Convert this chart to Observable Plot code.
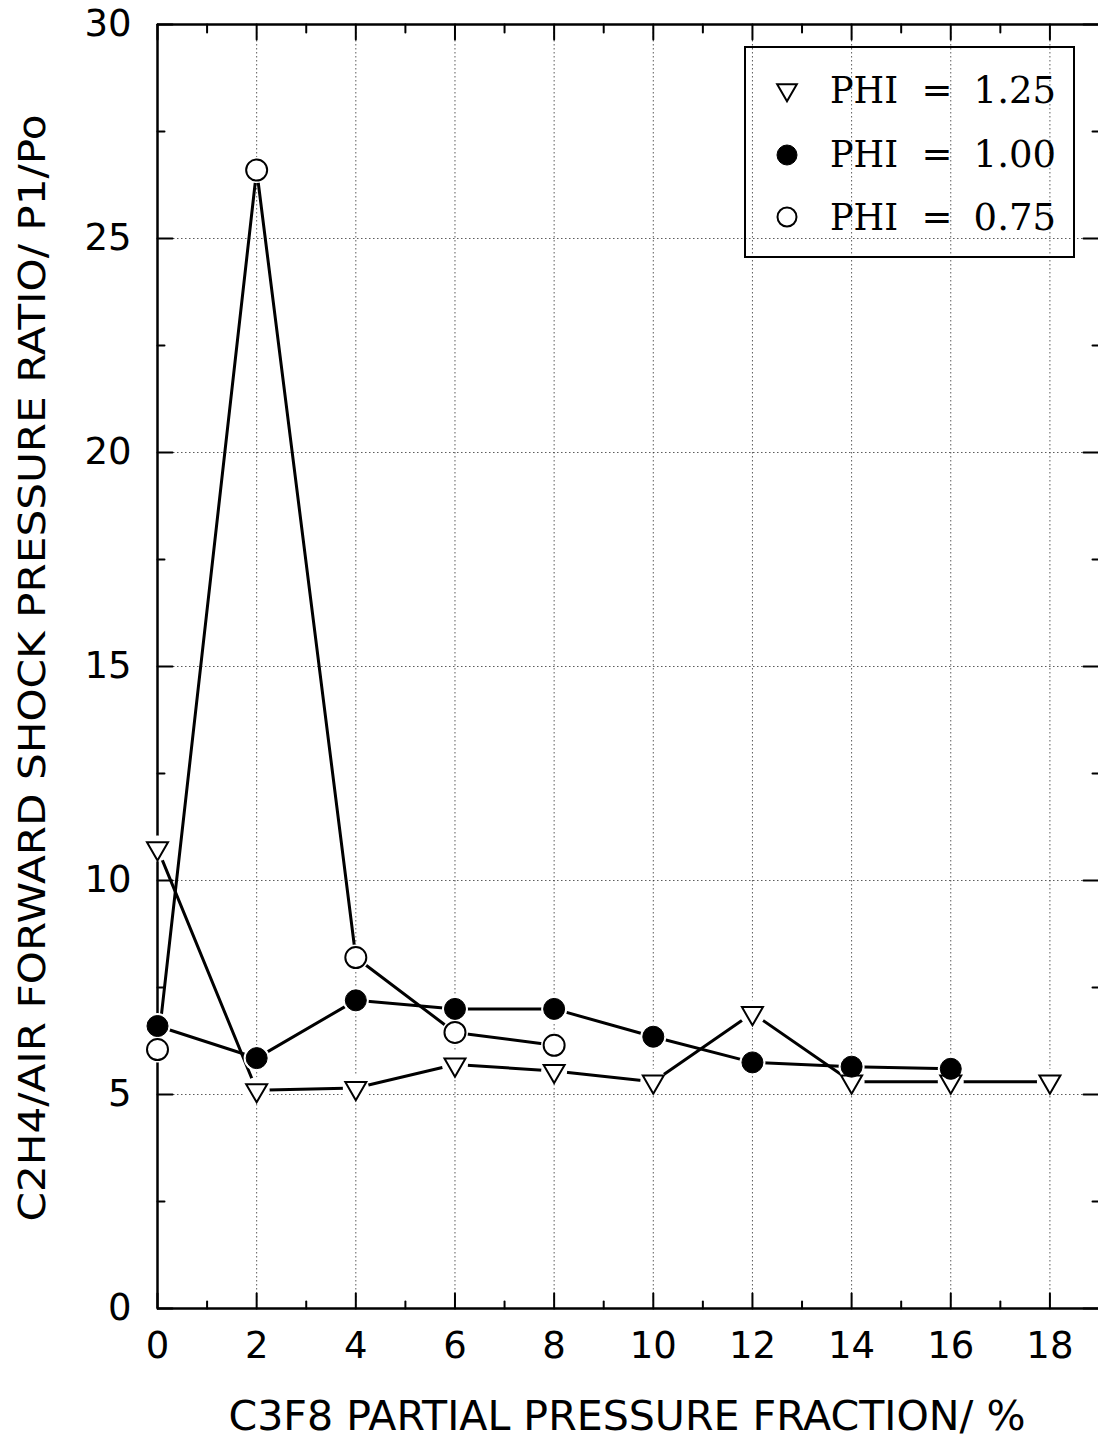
<!DOCTYPE html>
<html><head><meta charset="utf-8">
<script src="https://cdn.jsdelivr.net/npm/d3@7"></script>
<script src="https://cdn.jsdelivr.net/npm/@observablehq/plot@0.6"></script>
<style>html,body{margin:0;padding:0;background:#fff;overflow:hidden}#chart{position:relative}</style>
</head><body><div id="chart"></div>
<script>
// ---- data ----
const xValues = [0, 2, 4, 6, 8, 10, 12, 14, 16, 18];
const phi125 = [10.75, 5.1, 5.15, 5.7, 5.55, 5.3, 6.9, 5.3, 5.3, 5.3];
const phi100 = [6.6, 5.85, 7.2, 7.0, 7.0, 6.35, 5.75, 5.65, 5.6];
const phi075 = [6.05, 26.6, 8.2, 6.45, 6.15];
const legendNames = ["PHI", "PHI", "PHI"];
const legendValues = ["1.25", "1.00", "0.75"];
const xTicks = [0, 2, 4, 6, 8, 10, 12, 14, 16, 18];
const xMinor = [1, 3, 5, 7, 9, 11, 13, 15, 17, 19];
const yTicks = [0, 5, 10, 15, 20, 25, 30];
const yMinor = [2.5, 7.5, 12.5, 17.5, 22.5, 27.5];
const xLabel = "C3F8 PARTIAL PRESSURE FRACTION/ %";
const yLabel = "C2H4/AIR FORWARD SHOCK PRESSURE RATIO/ P1/Po";

const toRows = (vals, phi) => vals.map((v, i) => ({x: xValues[i], y: v, phi}));
const s125 = toRows(phi125, "1.25");
const s100 = toRows(phi100, "1.00");
const s075 = toRows(phi075, "0.75");
const all = [...s125, ...s100, ...s075];

const tickShape = {draw(ctx, l) { ctx.moveTo(0, 0); ctx.lineTo(0, -l); }};
const FONT = "DejaVu Sans, Liberation Sans, sans-serif";
const tickMarks = (data, opts) => Plot.vector(data, {...opts, anchor: "start", shape: tickShape, stroke: "black", strokeWidth: 2});

const chart = Plot.plot({
  width: 1098,
  height: 1439,
  marginLeft: 157,
  marginRight: -1,
  marginTop: 24,
  marginBottom: 131,
  style: {fontFamily: FONT, background: "white", color: "black"},
  x: {domain: [0, 19]},
  y: {domain: [0, 30]},
  marks: [
    Plot.gridX(xTicks, {stroke: "#333", strokeOpacity: 0.8, strokeDasharray: "1.5,2.5", strokeWidth: 1}),
    Plot.gridY(yTicks, {stroke: "#333", strokeOpacity: 0.8, strokeDasharray: "1.5,2.5", strokeWidth: 1}),
    Plot.axisX(xTicks, {tickSize: 0, tickPadding: 23, fontSize: 37, label: null, tickFormat: d => String(d)}),
    Plot.axisY(yTicks, {tickSize: 0, tickPadding: 26, fontSize: 37, label: null, tickFormat: d => String(d)}),
    // inward ticks on four sides
    tickMarks(xTicks, {x: d => d, length: 15, rotate: 0, frameAnchor: "bottom"}),
    tickMarks(xMinor, {x: d => d, length: 7, rotate: 0, frameAnchor: "bottom"}),
    tickMarks(xTicks, {x: d => d, length: 15, rotate: 180, frameAnchor: "top"}),
    tickMarks(xMinor, {x: d => d, length: 8, rotate: 180, frameAnchor: "top"}),
    tickMarks(yTicks, {y: d => d, length: 15, rotate: 90, frameAnchor: "left"}),
    tickMarks(yMinor, {y: d => d, length: 7, rotate: 90, frameAnchor: "left"}),
    tickMarks(yTicks, {y: d => d, length: 16, rotate: -90, frameAnchor: "right"}),
    tickMarks(yMinor, {y: d => d, length: 7, rotate: -90, frameAnchor: "right"}),
    // frame
    Plot.ruleX([0], {stroke: "black", strokeWidth: 2.5}),
    Plot.ruleX([19], {stroke: "black", strokeWidth: 2.5}),
    Plot.ruleY([0], {stroke: "black", strokeWidth: 2.5}),
    Plot.ruleY([30], {stroke: "black", strokeWidth: 2.5}),
    // lines
    Plot.line(s125, {x: "x", y: "y", stroke: "black", strokeWidth: 3}),
    Plot.line(s100, {x: "x", y: "y", stroke: "black", strokeWidth: 3}),
    Plot.line(s075, {x: "x", y: "y", stroke: "black", strokeWidth: 3}),
    // halos
    Plot.dot(all, {x: "x", y: "y", r: 13, fill: "white"}),
    // markers
    Plot.dot(s125, {x: "x", y: "y", symbol: "triangle", r: 7.8, rotate: 180, fill: "white", stroke: "black", strokeWidth: 2}),
    Plot.dot(s075, {x: "x", y: "y", r: 10.5, fill: "white", stroke: "black", strokeWidth: 2}),
    Plot.dot(s100, {x: "x", y: "y", r: 10.5, fill: "black", stroke: "black", strokeWidth: 1})
  ]
});
document.getElementById("chart").appendChild(chart);

// axis titles and legend
const svg = d3.select(chart);
svg.append("text")
  .attr("x", 627).attr("y", 1430)
  .attr("text-anchor", "middle")
  .attr("font-family", FONT).attr("font-size", 40)
  .attr("textLength", 797).attr("lengthAdjust", "spacingAndGlyphs")
  .text(xLabel);
svg.append("text")
  .attr("transform", "translate(45,668) rotate(-90)")
  .attr("text-anchor", "middle")
  .attr("font-family", FONT).attr("font-size", 38)
  .attr("textLength", 1107).attr("lengthAdjust", "spacingAndGlyphs")
  .text(yLabel);

const lg = svg.append("g");
lg.append("rect").attr("x", 745).attr("y", 47).attr("width", 329).attr("height", 210)
  .attr("fill", "none").attr("stroke", "black").attr("stroke-width", 2);
const rowY = [103, 167, 230];
const symY = [90, 155, 217];
const triPath = d3.symbol(d3.symbolTriangle, Math.PI * 7.3 * 7.3)();
legendNames.forEach((name, i) => {
  if (i === 0) {
    lg.append("path").attr("d", triPath)
      .attr("transform", `translate(787,${symY[i]}) rotate(180)`)
      .attr("fill", "white").attr("stroke", "black").attr("stroke-width", 2);
  } else {
    lg.append("circle").attr("cx", 787).attr("cy", symY[i]).attr("r", i === 1 ? 10 : 9.5)
      .attr("fill", i === 1 ? "black" : "white").attr("stroke", "black").attr("stroke-width", i === 1 ? 1 : 2);
  }
  const t = {"font-family": "DejaVu Serif, Liberation Serif, serif", "font-size": 37};
  const a = (sel) => { for (const k in t) sel.attr(k, t[k]); return sel; };
  a(lg.append("text")).attr("x", 830).attr("y", rowY[i]).attr("text-anchor", "start").attr("textLength", 68).attr("lengthAdjust", "spacingAndGlyphs").text(name);
  a(lg.append("text")).attr("x", 937).attr("y", rowY[i]).attr("text-anchor", "middle").text("=");
  a(lg.append("text")).attr("x", 1056).attr("y", rowY[i]).attr("text-anchor", "end").text(legendValues[i]);
});
</script>
</body></html>
